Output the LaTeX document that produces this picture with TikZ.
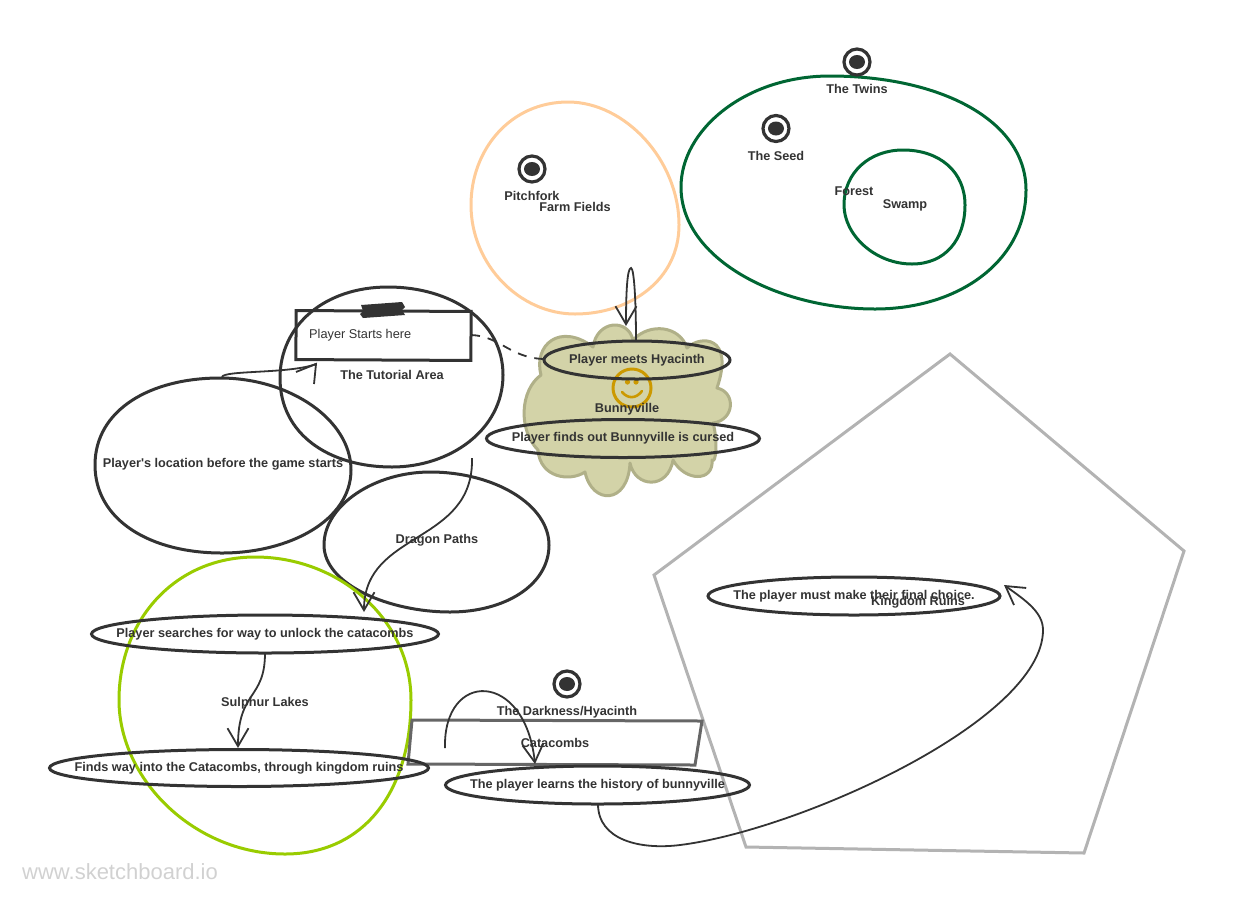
\documentclass[tikz,border=0pt]{standalone}
\usepackage{fontspec}
\setmainfont{Liberation Sans}
\newfontfamily\rawfont{Liberation Sans}
\usetikzlibrary{arrows.meta,shapes.geometric}
\definecolor{ink}{HTML}{333333}
\definecolor{peach}{HTML}{FFCC99}
\definecolor{forestg}{HTML}{006633}
\definecolor{lime}{HTML}{99CC00}
\definecolor{cloudf}{HTML}{D3D3A8}
\definecolor{cloudd}{HTML}{B0B088}
\definecolor{gold}{HTML}{CC9900}
\definecolor{pent}{HTML}{B3B3B3}
\newcommand{\zw}[1]{\makebox[0pt]{\raisebox{-1pt}{#1}}}
\tikzset{
  x=1pt,y=-1pt,
  blob/.style={line width=3pt,draw=ink},
  oval/.style={ellipse,draw=ink,line width=3pt,inner sep=0pt,text=ink,font=\bfseries\fontsize{12.7}{15}\selectfont},
  lbl/.style={text=ink,inner sep=0pt,font=\bfseries\fontsize{12.7}{15}\selectfont},
  line0/.style={draw=ink,line width=1.8pt},
  conn/.style={line0,-{Straight Barb[length=18pt,width=21pt,line width=1.8pt]}},
  target/.style={circle,draw=ink,line width=3.2pt,minimum size=26pt,inner sep=0pt,path picture={\fill[ink] (path picture bounding box.center) ellipse (8pt and 7pt);}}
}
\begin{document}
\begin{tikzpicture}
\useasboundingbox (0,0) rectangle (1246,903);
% blobs
\draw[line width=3pt,draw=peach] (471,205) .. controls (471,150) and (510,102) .. (568,102) .. controls (625,102) and (679,160) .. (679,225) .. controls (679,280) and (630,314) .. (575,314) .. controls (520,314) and (471,265) .. (471,205) -- cycle;
\draw[line width=3pt,draw=forestg] (681,187) .. controls (681,130) and (745,76) .. (830,76) .. controls (940,76) and (1026,120) .. (1026,190) .. controls (1026,260) and (960,309) .. (875,309) .. controls (780,309) and (681,260) .. (681,187) -- cycle;
\draw[line width=3pt,draw=forestg] (844,205) .. controls (844,172) and (870,150) .. (903,150) .. controls (940,150) and (965,172) .. (965,205) .. controls (965,240) and (945,264) .. (912,264) .. controls (875,264) and (844,235) .. (844,205) -- cycle;
\draw[blob] (280,378) .. controls (280,325) and (325,287) .. (388,287) .. controls (450,287) and (503,320) .. (503,375) .. controls (503,430) and (450,467) .. (392,467) .. controls (330,467) and (280,435) .. (280,378) -- cycle;
\draw[blob] (95,465) .. controls (95,410) and (150,378) .. (220,378) .. controls (290,378) and (351,420) .. (351,470) .. controls (351,520) and (290,553) .. (222,553) .. controls (150,553) and (95,520) .. (95,465) -- cycle;
\draw[blob] (324,545) .. controls (324,505) and (375,472) .. (430,472) .. controls (495,472) and (549,505) .. (549,545) .. controls (549,585) and (505,612) .. (450,612) .. controls (390,612) and (324,585) .. (324,545) -- cycle;
\draw[line width=3pt,draw=lime] (119,700) .. controls (119,620) and (175,557) .. (255,557) .. controls (340,557) and (411,620) .. (411,700) .. controls (411,790) and (365,854) .. (285,854) .. controls (195,854) and (119,780) .. (119,700) -- cycle;
% pentagon
\draw[line width=3pt,draw=pent,line join=miter] (950,354)--(1184,551)--(1084,853)--(746,847)--(654,575)--cycle;
% cloud
\draw[line width=3pt,draw=cloudd,fill=cloudf,line join=round]
 (541,375) .. controls (533,345) and (560,322) .. (593,347)
 .. controls (597,320) and (628,318) .. (633,340)
 .. controls (650,322) and (680,326) .. (687,348)
 .. controls (700,335) and (735,335) .. (717,388)
 .. controls (736,392) and (735,420) .. (713,423)
 .. controls (718,440) and (716,465) .. (712,460)
 .. controls (714,482) and (685,482) .. (673,460)
 .. controls (668,490) and (635,488) .. (630,463)
 .. controls (628,505) and (592,505) .. (585,472)
 .. controls (570,482) and (540,478) .. (538,450)
 .. controls (518,430) and (520,390) .. (541,375) -- cycle;
% smiley
\node[circle,draw=gold,line width=3pt,minimum size=38pt,inner sep=0pt] (smile) at (632,388) {};
\fill[gold] (627.5,382) circle (2.6pt) (636,382) circle (2.6pt);
\draw[gold,line width=2.6pt,line cap=round] (622,392) .. controls (628,399) and (636,399) .. (642,391);
% boxes
\node[draw=ink,line width=3pt,minimum width=175pt,minimum height=49pt,inner sep=0pt,rotate=-0.3] (start) at (383.5,335.5) {};
\fill[ink] (361,305) -- (402,302) -- (405,307) -- (402,310) -- (405,315) -- (363,318) -- (360,314) -- (363,311) -- cycle;
\node[text=ink,inner sep=0pt,font=\fontsize{12.75}{15}\selectfont,anchor=base west] (starttxt) at (309,338) {Player Starts here};
\draw[line width=3pt,draw=black!60] (412,720)--(702,721)--(695,765)--(408,764)--cycle;
% targets
\node[target] (t1) at (857,62) {};
\node[target] (t2) at (776,128.5) {};
\node[target] (t3) at (532,169) {};
\node[target] (t4) at (567,684) {};
% ovals
\node[oval,minimum width=186pt,minimum height=38pt] (meets) at (637,360) {\zw{Player meets Hyacinth}};
\node[oval,minimum width=273pt,minimum height=38pt] (cursed) at (623,438.5) {\zw{Player finds out Bunnyville is cursed}};
\node[oval,minimum width=347pt,minimum height=38pt] (search) at (265,634) {\zw{Player searches for way to unlock the catacombs}};
\node[oval,minimum width=379pt,minimum height=37pt] (finds) at (239,768) {\zw{Finds way into the Catacombs, through kingdom ruins}};
\node[oval,minimum width=304pt,minimum height=38pt] (hist) at (597.5,785) {\zw{The player learns the history of bunnyville}};
\node[oval,minimum width=292pt,minimum height=38pt] (final) at (854,596) {\zw{The player must make their final choice.}};
% labels
\node[lbl] (a) at (857,89) {The Twins};
\node[lbl] (b) at (776,156) {The Seed};
\node[lbl] (c) at (532,196) {Pitchfork};
\node[lbl] (d) at (575,207) {Farm Fields};
\node[lbl] (e) at (854,191) {Forest};
\node[lbl] (f) at (905,205) {Swamp};
\node[lbl] (g) at (392,375) {The Tutorial Area};
\node[lbl] (h) at (223,464.5) {\rawfont Player's location before the game starts};
\node[lbl] (i) at (627,409.5) {Bunnyville};
\node[lbl] (j) at (437,540.5) {Dragon Paths};
\node[lbl] (k) at (265,703.5) {Sulphur Lakes};
\node[lbl] (l) at (567,712) {The Darkness/Hyacinth};
\node[lbl] (m) at (555,743) {Catacombs};
\node[lbl] (n) at (918,602) {Kingdom Ruins};
% connector ends
\coordinate (locTop) at (222,377);
\coordinate (startIn) at (316,364);
\coordinate (startW1) at (296,372);
\coordinate (startW2) at (314,384);
\coordinate (meetTop) at (636,341);
\coordinate (farmIn) at (626,326);
\coordinate (tutOut) at (472,458);
\coordinate (searchIn) at (364,612);
\coordinate (searchOut) at (265,653);
\coordinate (findsIn) at (238,748);
\coordinate (catOut) at (445,748);
\coordinate (histIn) at (535,764);
\coordinate (histOut) at (598,804);
\coordinate (finalIn) at (1004,585);
\coordinate (startOut) at (471,335);
\coordinate (meetLeft) at (544,359);
% connectors
\draw[line0] (locTop) .. controls (224,370) and (290,374) .. (startIn);
\draw[line0] (startW1) -- (startIn) -- (startW2);
\draw[conn] (meetTop) .. controls (636,300) and (634,268) .. (631,268) .. controls (627,268) and (626,295) .. (farmIn);
\draw[draw=ink,line width=1.8pt,dash pattern=on 9pt off 8pt] (startOut) .. controls (500,336) and (510,358) .. (meetLeft);
\draw[conn] (tutOut) .. controls (474,545) and (364,530) .. (searchIn);
\draw[conn] (searchOut) .. controls (265,700) and (238,690) .. (findsIn);
\draw[conn] (catOut) .. controls (443,670) and (525,670) .. (histIn);
\draw[conn] (histOut) .. controls (598,840) and (640,850) .. (680,845) .. controls (800,830) and (1043,720) .. (1043,630) .. controls (1043,612) and (1025,600) .. (finalIn);
% watermark
\node[text=black!18,inner sep=0pt,anchor=base west,font=\fontsize{22}{24}\selectfont] (wm) at (22,879) {www.sketchboard.io};
\end{tikzpicture}
\end{document}
